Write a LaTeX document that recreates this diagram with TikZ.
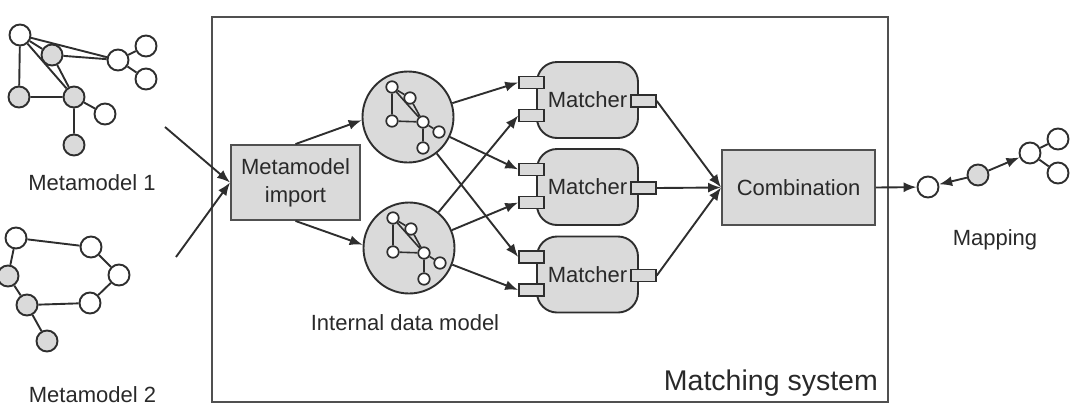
\documentclass[tikz,border=0pt]{standalone}
\usepackage{fontspec}
\setmainfont{Liberation Sans}
\usetikzlibrary{arrows.meta}

\definecolor{ink}{HTML}{2E2E2E}
\definecolor{frame}{HTML}{505050}
\definecolor{fillgray}{HTML}{DADADA}

\tikzset{
  txt/.style={font=\fontsize{22}{28}\selectfont, text=ink!90!black, inner sep=0pt},
  bigtxt/.style={font=\fontsize{28.5}{34}\selectfont, text=ink!90!black, inner sep=0pt},
  edge/.style={draw=ink, line width=1.9pt},
  arr/.style={edge, -{Latex[length=13pt,width=10pt]}},
  wnode/.style={circle, draw=ink, line width=1.9pt, fill=white, minimum size=21pt, inner sep=0pt},
  gnode/.style={wnode, fill=fillgray},
  snode/.style={circle, draw=ink, line width=1.7pt, fill=white, minimum size=11.5pt, inner sep=0pt},
  bigc/.style={circle, draw=ink, line width=1.9pt, fill=fillgray, minimum size=91pt, inner sep=0pt},
  box/.style={rectangle, draw=frame, line width=1.9pt, fill=fillgray, inner sep=0pt, align=center,
              font=\fontsize{22}{28}\selectfont, text=ink!90!black},
  mbody/.style={box, draw=ink, rounded corners=20pt, minimum width=101pt, minimum height=76pt},
  port/.style={rectangle, draw=ink, line width=1.6pt, fill=fillgray, minimum width=25pt, minimum height=12pt, inner sep=0pt},
  sysbox/.style={rectangle, draw=frame, line width=1.9pt, minimum width=676pt, minimum height=385pt, inner sep=0pt}
}

% small graph drawn inside a data-model circle, #1 = name prefix
\newcommand\innergraph[1]{%
  \node[snode] (#1n1) at (-16,-30) {};
  \node[snode] (#1n2) at (2,-19) {};
  \node[snode] (#1n3) at (-16,4) {};
  \node[snode] (#1n4) at (15,5) {};
  \node[snode] (#1n5) at (31,15) {};
  \node[snode] (#1n6) at (15,31) {};
  \draw[edge, line width=1.6pt] (#1n1) -- (#1n2) (#1n1) -- (#1n4) (#1n1) -- (#1n3)
     (#1n3) -- (#1n4) (#1n2) -- (#1n4) (#1n4) -- (#1n5) (#1n4) -- (#1n6);
}

\begin{document}
\begin{tikzpicture}[x=1pt,y=-1pt]
\useasboundingbox (0,0) rectangle (1082,405);

% matching system frame
\node[sysbox] (sys) at (550,209.5) {};
\node[bigtxt, anchor=base east] (syslabel) at (878,390) {Matching system};

% metamodel 1
\node[wnode] (a1) at (20,35) {};
\node[gnode] (b1) at (52,55) {};
\node[wnode] (c1) at (118,60) {};
\node[wnode] (d1) at (146,46) {};
\node[wnode] (e1) at (146,79) {};
\node[gnode] (f1) at (19,97) {};
\node[gnode] (g1) at (74,97) {};
\node[wnode] (h1) at (105,114) {};
\node[gnode] (i1) at (74,145) {};
\draw[edge] (a1) -- (c1) (a1) -- (b1) (a1) -- (g1) (a1) -- (f1)
  (b1) -- (c1) (b1) -- (g1) (c1) -- (d1) (c1) -- (e1)
  (f1) -- (g1) (g1) -- (h1) (g1) -- (i1);
\node[txt, anchor=base] (mm1label) at (92,190) {Metamodel 1};

% metamodel 2
\node[wnode] (a2) at (16,238) {};
\node[wnode] (b2) at (91,247) {};
\node[wnode] (c2) at (119,275) {};
\node[gnode] (d2) at (8,276) {};
\node[gnode] (e2) at (27,305) {};
\node[wnode] (f2) at (90,303) {};
\node[gnode] (g2) at (47,341) {};
\draw[edge] (a2) -- (b2) (b2) -- (c2) (c2) -- (f2) (f2) -- (e2)
  (e2) -- (d2) (d2) -- (a2) (e2) -- (g2);
\node[txt, anchor=base] (mm2label) at (92.5,402) {Metamodel 2};

% import
\node[box, minimum width=129pt, minimum height=75pt] (imp) at (295.5,182.5) {Metamodel\\import};
\coordinate (mm1out) at (165,127);
\coordinate (mm2out) at (176,257);
\draw[arr] (mm1out) -- (imp.west);
\draw[arr] (mm2out) -- (imp.west);

% internal data model
\node[bigc] (tc) at (408,117) {};
\node[bigc] (bc) at (409,248) {};
\begin{scope}[shift={(408,117)}] \innergraph{t} \end{scope}
\begin{scope}[shift={(409,248)}] \innergraph{b} \end{scope}
\node[txt, anchor=base] (idmlabel) at (405,330) {Internal data model};
\draw[arr] (imp.north) -- (tc.184);
\draw[arr] (imp.south) -- (bc.176);

% combination
\node[box, minimum width=153pt, minimum height=75pt] (comb) at (798.5,187.5) {Combination};

% matchers
\foreach \i/\c in {1/100,2/187,3/274.5}{
  \node[mbody] (mb\i) at (587.5,\c) {Matcher};
  \node[port] (pu\i) at (531.5,{\c-17.5}) {};
  \node[port] (pl\i) at (531.5,{\c+15.5}) {};
  \node[port] (pr\i) at (643.5,{\c+1}) {};
}
\foreach \i in {1,2,3}{
  \draw[arr] (tc) -- (pu\i.west);
  \draw[arr] (bc) -- (pl\i.west);
  \draw[arr] (pr\i.east) -- (comb.west);
}

% mapping
\node[wnode] (mp1) at (928,187) {};
\node[gnode] (mp2) at (978,175) {};
\node[wnode] (mp3) at (1030,153) {};
\node[wnode] (mp4) at (1058,139) {};
\node[wnode] (mp5) at (1058,173) {};
\draw[arr] (comb.east) -- (mp1);
\draw[arr] (mp2) -- (mp1);
\draw[arr] (mp2) -- (mp3);
\draw[edge] (mp3) -- (mp4) (mp3) -- (mp5);
\node[txt, anchor=base] (maplabel) at (995,245) {Mapping};
\end{tikzpicture}
\end{document}
